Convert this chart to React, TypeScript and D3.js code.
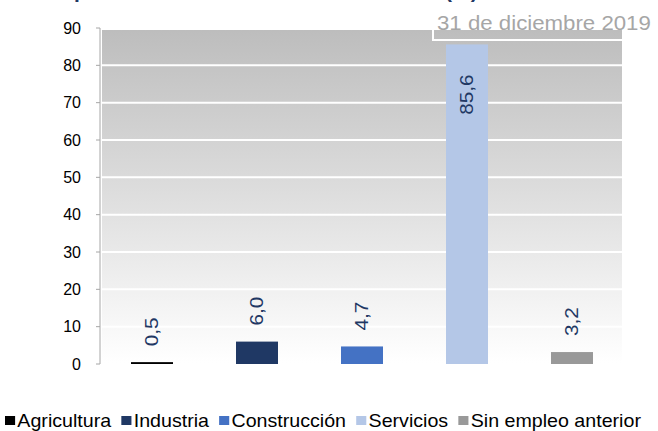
import * as d3 from "d3";
import { useEffect, useRef } from "react";

const categories = ["Agricultura", "Industria", "Construcción", "Servicios", "Sin empleo anterior"];
const values = [0.5, 6.0, 4.7, 85.6, 3.2];
const barColors = ["#000000", "#1F3864", "#4472C4", "#B4C7E7", "#999999"];
const yTicks = [0, 10, 20, 30, 40, 50, 60, 70, 80, 90];
const dateLabel = "31 de diciembre 2019";
const titleMain = "paro: distribución sectorial";
const titleUnit = "(%)";

const W = 658;
const H = 431;
const font = "'Liberation Sans', Arial, sans-serif";
const navy = "#1F3864";

export default function App() {
  const legendRef = useRef<SVGGElement>(null);
  const dateRef = useRef<SVGTextElement>(null);

  const x = d3
    .scaleBand()
    .domain(categories)
    .range([99.5, 624.5])
    .paddingInner(0.6)
    .paddingOuter(0.3);

  const y = d3.scaleLinear().domain([0, 90]).range([364, 28]);

  const fmt = (v: number) => v.toFixed(1).replace(".", ",");

  useEffect(() => {
    // stretch the date label to the width it has in the reference
    if (dateRef.current) {
      const len = dateRef.current.getComputedTextLength();
      const sx = 214 / len;
      d3.select(dateRef.current).attr("transform", `translate(437,30) scale(${sx},1)`);
    }

    // legend laid out from measured text widths, then stretched to the reference span
    if (!legendRef.current) return;
    const g = d3.select(legendRef.current);
    g.selectAll("*").remove();
    const inner = g.append("g");
    let cx = 0;
    const sq = 9;
    categories.forEach((c, i) => {
      inner
        .append("rect")
        .attr("x", cx)
        .attr("y", 416)
        .attr("width", sq)
        .attr("height", sq)
        .attr("fill", barColors[i]);
      const t = inner
        .append("text")
        .attr("x", cx + sq + 2)
        .attr("y", 427)
        .attr("font-size", 17.5)
        .attr("fill", "#000")
        .text(c);
      const w = (t.node() as SVGTextElement).getComputedTextLength();
      cx += sq + 2 + w + (i < categories.length - 1 ? 9 : 0);
    });
    const sx = (641 - 5) / cx;
    inner.attr("transform", `translate(5,0) scale(${sx},1)`);
  }, []);

  const barTop = (v: number) => y(v);

  return (
    <svg
      width={W}
      height={H}
      style={{ position: "absolute", left: 0, top: 0, fontFamily: font }}
    >
      <defs>
        <linearGradient id="bg" x1="0" y1="0" x2="0" y2="1">
          <stop offset="0" stopColor="#bdbdbd" />
          <stop offset="1" stopColor="#ffffff" />
        </linearGradient>
      </defs>

      {/* title, cut off by the top edge */}
      <text y={-2} fontSize={21} fontWeight="bold" fill={navy}>
        <tspan x={74}>{titleMain}</tspan>
        <tspan x={445}>{titleUnit}</tspan>
      </text>

      {/* plot background */}
      <rect x={102} y={30} width={520} height={333} fill="url(#bg)" />

      {/* gridlines */}
      {yTicks
        .filter((t) => t > 0)
        .map((t) => (
          <line
            key={t}
            x1={102}
            x2={622}
            y1={y(t)}
            y2={y(t)}
            stroke="#ffffff"
            strokeWidth={2}
          />
        ))}

      {/* date label box */}
      <rect x={433} y={4} width={260} height={36} fill="none" stroke="#ffffff" strokeWidth={2} />
      <text ref={dateRef} transform="translate(437,30)" fontSize={20} fill="#a6a6a6">
        {dateLabel}
      </text>

      {/* y axis */}
      <line x1={100} x2={100} y1={y(90)} y2={y(0)} stroke="#a6a6a6" strokeWidth={1} />
      {yTicks.map((t) => (
        <g key={t}>
          <line x1={96} x2={100} y1={y(t)} y2={y(t)} stroke="#a6a6a6" />
          <text x={81} y={y(t) + 5.5} fontSize={16} textAnchor="end" fill="#000">
            {t}
          </text>
        </g>
      ))}

      {/* bars */}
      {categories.map((c, i) => (
        <rect
          key={c}
          x={x(c)}
          width={x.bandwidth()}
          y={barTop(values[i])}
          height={y(0) - barTop(values[i])}
          fill={barColors[i]}
        />
      ))}

      {/* value labels, rotated */}
      {categories.map((c, i) => {
        const cx = (x(c) ?? 0) + x.bandwidth() / 2;
        const inside = values[i] > 50;
        const yPos = inside ? barTop(values[i]) + 30 : barTop(values[i]) - 16;
        return (
          <text
            key={c}
            transform={`translate(${cx},${yPos}) rotate(-90) scale(1.15,1)`}
            dy="0.35em"
            fontSize={18}
            fill={navy}
            textAnchor={inside ? "end" : "start"}
          >
            {fmt(values[i])}
          </text>
        );
      })}

      <g ref={legendRef} />
    </svg>
  );
}
